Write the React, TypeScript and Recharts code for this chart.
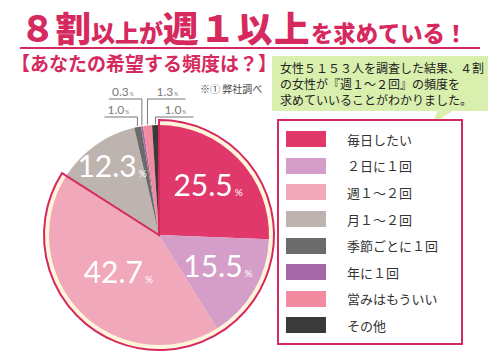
import { PieChart, Pie, Cell } from "recharts";

// 希望する頻度 (女性5153人, 弊社調べ)
const frequencies = [
  "毎日したい",
  "２日に１回",
  "週１～２回",
  "月１～２回",
  "季節ごとに１回",
  "年に１回",
  "営みはもういい",
  "その他",
];
const shares = [25.5, 15.5, 42.7, 12.3, 1.0, 0.3, 1.3, 1.0];
const colors = ["#E0386B", "#D59EC9", "#F0A8BA", "#BEB4AF", "#6B6B6B", "#A468A8", "#F28AA0", "#3A3A3A"];

// 週1以上 = first three answers
const weeklyCount = 3;

const CRIMSON = "#D62A5F";
const JP = "'Noto Sans CJK JP', 'Noto Sans', sans-serif";
const NUM = "Lato, 'Open Sans', sans-serif";

const data = frequencies.map((name, i) => ({ name, value: shares[i] }));
const sum = (a: number[]) => a.reduce((s, v) => s + v, 0);
const outlineData = [
  { name: "週１以上", value: sum(shares.slice(0, weeklyCount)) },
  { name: "rest", value: sum(shares.slice(weeklyCount)) },
];

const RAD = Math.PI / 180;

const renderLabel = (p: any) => {
  const { cx, cy, midAngle, outerRadius, index, value } = p;
  const cos = Math.cos(-midAngle * RAD);
  const sin = Math.sin(-midAngle * RAD);
  if (value >= 5) {
    // narrow slices get the number pushed outward, the wide one inward
    const f = value < 14 ? 0.74 : value > 40 ? 0.52 : 0.62;
    const r = outerRadius * f;
    return (
      <text
        x={cx + r * cos}
        y={cy + r * sin + 8}
        fill="#fff"
        textAnchor="middle"
        fontFamily={NUM}
        fontSize={30}
      >
        {value.toFixed(1)}
        <tspan fontSize={10} dx={2}>%</tspan>
      </text>
    );
  }
  // small slices: leader lines going up, split left / right
  const k = index - 4;
  const left = k < 2;
  const upper = k === 1 || k === 2;
  const px = cx + (outerRadius + 1) * cos;
  const py = cy + (outerRadius + 1) * sin;
  const rowY = cy - outerRadius - (upper ? 26 : 8);
  const ex = px;
  const endX = left ? ex - 33 : ex + 38;
  const tx = left ? ex - 19 : ex + 20;
  return (
    <g>
      <polyline
        points={`${px},${py} ${ex},${rowY} ${endX},${rowY}`}
        fill="none"
        stroke="#777"
        strokeWidth={1}
      />
      <text x={tx} y={rowY - 3} fill="#7a7a7a" textAnchor="middle" fontFamily={NUM} fontSize={12}>
        {value.toFixed(1)}
        <tspan fontSize={5} dx={1}>%</tspan>
      </text>
    </g>
  );
};

export default function App() {
  return (
    <div
      style={{
        position: "absolute",
        left: 0,
        top: 0,
        width: 500,
        height: 353,
        background: "#fff",
        fontFamily: JP,
        overflow: "hidden",
      }}
    >
      {/* title, bubble tail, underline */}
      <svg style={{ position: "absolute", left: 0, top: 0 }} width={500} height={353}>
        <text x={20} y={42} fill={CRIMSON} fontFamily={JP} fontWeight={900}>
          <tspan fontSize={35.5}>８割</tspan>
          <tspan fontSize={24}>以上が</tspan>
          <tspan fontSize={35.5} letterSpacing={1.5}>週１以上</tspan>
          <tspan fontSize={22.3}>を求めている！</tspan>
        </text>
        <rect x={20} y={47} width={460} height={2} fill={CRIMSON} />
        <polygon points="438,110 454,110 432,124" fill="#D9EFAE" />
      </svg>

      <div
        style={{
          position: "absolute",
          left: 11,
          top: 51,
          color: CRIMSON,
          fontSize: 19,
          fontWeight: 700,
          whiteSpace: "nowrap",
          lineHeight: "23px",
        }}
      >
        【あなたの希望する頻度は？】
      </div>

      <div style={{ position: "absolute", left: 200, top: 81, fontSize: 10, color: "#444", whiteSpace: "nowrap" }}>
        ※① 弊社調べ
      </div>

      {/* comment bubble */}
      <div
        style={{
          position: "absolute",
          left: 272,
          top: 56,
          width: 216,
          height: 55,
          background: "#D9EFAE",
          fontSize: 12,
          lineHeight: "16px",
          color: "#222",
          padding: "4px 0 0 8px",
          boxSizing: "border-box",
          whiteSpace: "nowrap",
        }}
      >
        女性５１５３人を調査した結果、４割
        <br />
        の女性が『週１～２回』の頻度を
        <br />
        求めていいることがわかりました。
      </div>

      <PieChart width={500} height={353} style={{ position: "absolute", left: 0, top: 0 }}>
        <Pie
          data={outlineData}
          dataKey="value"
          cx={154}
          cy={230}
          outerRadius={114}
          startAngle={90}
          endAngle={-270}
          isAnimationActive={false}
          stroke="none"
        >
          <Cell fill="#FFF6DA" />
          <Cell fill="none" />
        </Pie>
        <Pie
          data={data}
          dataKey="value"
          cx={154}
          cy={230}
          outerRadius={110}
          startAngle={90}
          endAngle={-270}
          isAnimationActive={false}
          stroke="none"
          label={renderLabel}
          labelLine={false}
        >
          {data.map((d, i) => (
            <Cell key={d.name} fill={colors[i]} />
          ))}
        </Pie>
        <Pie
          data={outlineData}
          dataKey="value"
          cx={154}
          cy={230}
          outerRadius={115}
          startAngle={90}
          endAngle={-270}
          isAnimationActive={false}
        >
          <Cell fill="none" stroke={CRIMSON} strokeWidth={2} />
          <Cell fill="none" stroke="none" />
        </Pie>
      </PieChart>

      {/* legend */}
      <div
        style={{
          position: "absolute",
          left: 277,
          top: 119,
          width: 186,
          height: 226,
          border: `2px solid ${CRIMSON}`,
          boxSizing: "border-box",
          background: "#fff",
          paddingTop: 5,
        }}
      >
        {frequencies.map((f, i) => (
          <div key={f} style={{ display: "flex", alignItems: "center", height: 26.6 }}>
            <div style={{ marginLeft: 7, width: 40, height: 16, background: colors[i] }} />
            <div style={{ marginLeft: 21, fontSize: 13, color: "#333", whiteSpace: "nowrap" }}>{f}</div>
          </div>
        ))}
      </div>
    </div>
  );
}
